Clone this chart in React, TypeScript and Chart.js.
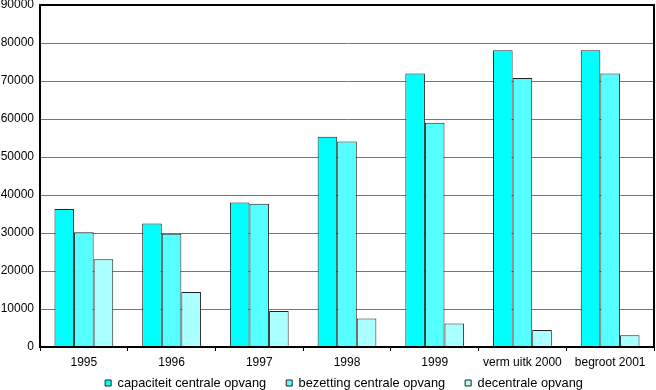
import React, { useEffect, useRef } from "react";
import { Chart, registerables } from "chart.js";

Chart.register(...registerables);

const categories = ["1995", "1996", "1997", "1998", "1999", "verm uitk 2000", "begroot 2001"];
const capaciteit = [36300, 32500, 38000, 55300, 72000, 78100, 78100];
const bezetting = [30200, 29800, 37700, 54100, 59000, 70800, 72000];
const decentraal = [23100, 14500, 9500, 7500, 6200, 4500, 3100];
const yTicks = [0, 10000, 20000, 30000, 40000, 50000, 60000, 70000, 80000, 90000];

const frame = {
  id: "frame",
  afterLayout(chart: any) {
    const lg = chart.legend;
    if (lg) {
      lg.top = lg.bottom - 33.4;
      lg.left += 17;
      lg.right += 17;
    }
  },
  afterDraw(chart: any) {
    const { ctx, chartArea: a } = chart;
    ctx.save();
    ctx.strokeStyle = "#000";
    ctx.lineWidth = 2;
    ctx.strokeRect(a.left, a.top, a.right - a.left, a.bottom - a.top);
    ctx.restore();
  },
};

export default function App() {
  const ref = useRef<HTMLCanvasElement>(null);
  useEffect(() => {
    document.body.style.margin = "0";
    const family = "'Liberation Sans', Arial, sans-serif";
    const font = { family, size: 12 };
    const mk = (label: string, data: number[], color: string) => ({
      label,
      data,
      backgroundColor: color,
      borderColor: "#222",
      borderWidth: 1,
      borderSkipped: "bottom" as const,
      categoryPercentage: 0.67,
      barPercentage: 1.0,
    });
    const chart = new Chart(ref.current!, {
      type: "bar",
      data: {
        labels: categories,
        datasets: [
          mk("capaciteit centrale opvang", capaciteit, "#00FFFF"),
          mk("bezetting centrale opvang", bezetting, "#55FFFF"),
          mk("decentrale opvang", decentraal, "#AAFFFF"),
        ],
      },
      options: {
        animation: false,
        responsive: false,
        maintainAspectRatio: false,
        layout: { padding: { top: 5, right: 2, left: 0, bottom: 0 } },
        plugins: {
          tooltip: { enabled: false },
          legend: {
            position: "bottom",
            maxHeight: 16,
            labels: {
              font: { family, size: 12.8 },
              color: "#000",
              boxWidth: 6,
              boxHeight: 6,
              padding: 20,
            },
          },
        },
        scales: {
          x: {
            offset: true,
            afterFit: (s: any) => {
              s.height = 27;
            },
            grid: {
              offset: true,
              drawOnChartArea: false,
              drawTicks: true,
              tickLength: 4,
              color: "#000",
            },
            border: { color: "#000", width: 2 },
            ticks: { font, color: "#000", padding: 4, maxRotation: 0, autoSkip: false },
          },
          y: {
            min: 0,
            max: 90000,
            afterBuildTicks: (s: any) => {
              s.ticks = yTicks.map((v) => ({ value: v }));
            },
            afterFit: (s: any) => {
              s.width = 40;
              s.paddingTop = 0;
              s.paddingBottom = 0;
            },
            grid: { color: "#777", drawTicks: false, lineWidth: 1 },
            border: { color: "#000", width: 2 },
            ticks: { font, color: "#000", padding: 6, callback: (v: any) => String(v) },
          },
        },
      },
      plugins: [frame],
    });
    return () => chart.destroy();
  }, []);
  return (
    <div style={{ width: 656, height: 390 }}>
      <canvas ref={ref} width={656} height={390} style={{ display: "block" }} />
    </div>
  );
}
